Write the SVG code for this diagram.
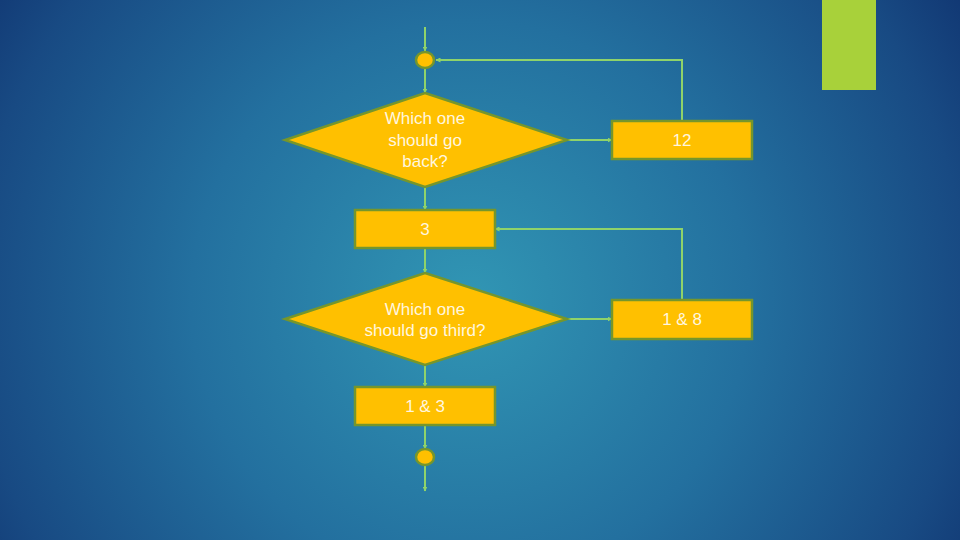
<svg xmlns="http://www.w3.org/2000/svg" width="960" height="540" viewBox="0 0 960 540">
<defs>
<radialGradient id="bg" cx="470" cy="300" r="620" gradientUnits="userSpaceOnUse">
<stop offset="0" stop-color="#3196b4"/>
<stop offset="0.45" stop-color="#23709f"/>
<stop offset="0.8" stop-color="#184a83"/>
<stop offset="1" stop-color="#0e2f6c"/>
</radialGradient>
<marker id="arr" viewBox="0 0 10 10" refX="9" refY="5" markerWidth="5" markerHeight="5" orient="auto" markerUnits="userSpaceOnUse">
<path d="M0,0 L10,5 L0,10 z" fill="#8fd36a"/>
</marker>
<style>
.shape{fill:#ffc000;stroke:#75962c;stroke-width:2.5}
.con{fill:none;stroke:#8fd36a;stroke-width:2}
.t{font-family:"Liberation Sans",Arial,sans-serif;font-size:17px;fill:#fff6df;text-anchor:middle}
</style>
</defs>
<rect width="960" height="540" fill="url(#bg)"/>
<rect x="822" y="0" width="54" height="90" fill="#a8d13a"/>
<g id="connectors">
<path class="con" d="M425,27 V51" marker-end="url(#arr)"/>
<path class="con" d="M682,121 V60 H436" marker-end="url(#arr)"/>
<path class="con" d="M425,68 V93" marker-end="url(#arr)"/>
<path class="con" d="M567,140 H612" marker-end="url(#arr)"/>
<path class="con" d="M425,187 V210" marker-end="url(#arr)"/>
<path class="con" d="M682,300 V229 H495" marker-end="url(#arr)"/>
<path class="con" d="M425,248 V273" marker-end="url(#arr)"/>
<path class="con" d="M567,319 H612" marker-end="url(#arr)"/>
<path class="con" d="M425,365 V387" marker-end="url(#arr)"/>
<path class="con" d="M425,425 V449" marker-end="url(#arr)"/>
<path class="con" d="M425,465 V491" marker-end="url(#arr)"/>
</g>
<g id="start">
<ellipse class="shape" cx="425" cy="60" rx="9" ry="8"/>
</g>
<g id="decision1">
<polygon class="shape" points="425,93 567,140 425,187 285,140"/>
<text class="t" x="425" y="124">Which one</text>
<text class="t" x="425" y="146">should go</text>
<text class="t" x="425" y="167">back?</text>
</g>
<g id="box12">
<rect class="shape" x="612" y="121" width="140" height="38"/>
<text class="t" x="682" y="146">12</text>
</g>
<g id="box3">
<rect class="shape" x="355" y="210" width="140" height="38"/>
<text class="t" x="425" y="235">3</text>
</g>
<g id="decision2">
<polygon class="shape" points="425,273 567,319 425,365 285,319"/>
<text class="t" x="425" y="315">Which one</text>
<text class="t" x="425" y="336">should go third?</text>
</g>
<g id="box18">
<rect class="shape" x="612" y="300" width="140" height="39"/>
<text class="t" x="682" y="325">1 &amp; 8</text>
</g>
<g id="box13">
<rect class="shape" x="355" y="387" width="140" height="38"/>
<text class="t" x="425" y="412">1 &amp; 3</text>
</g>
<g id="end">
<ellipse class="shape" cx="425" cy="457" rx="9" ry="8"/>
</g>
</svg>
